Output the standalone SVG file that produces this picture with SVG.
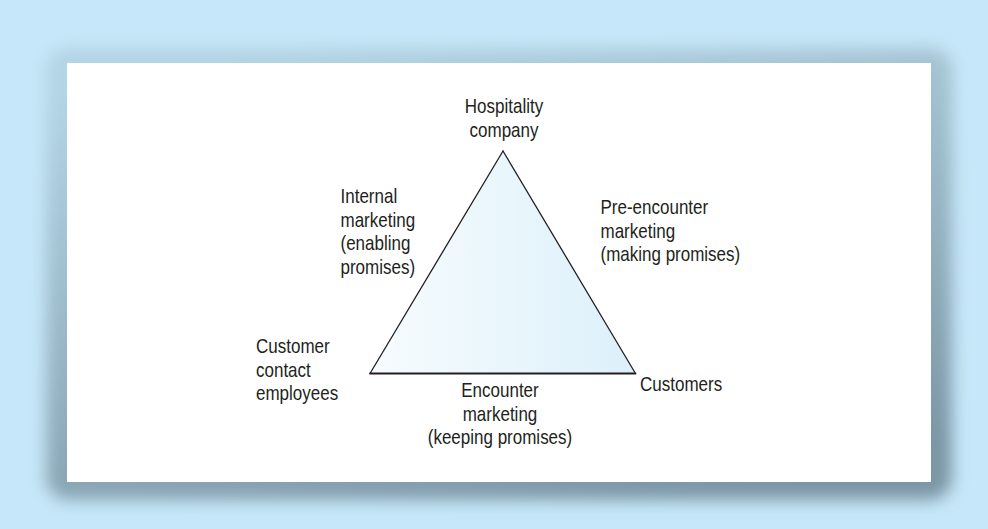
<svg xmlns="http://www.w3.org/2000/svg" width="988" height="529" viewBox="0 0 988 529">
  <defs>
    <linearGradient id="shadowGrad" x1="0.3" y1="0" x2="0.7" y2="1">
      <stop offset="0" stop-color="#b3d4e4"/>
      <stop offset="1" stop-color="#7b96a4"/>
    </linearGradient>
    <linearGradient id="triGrad" x1="0" y1="0" x2="1" y2="0">
      <stop offset="0" stop-color="#f7fcfe"/>
      <stop offset="1" stop-color="#dcf0fa"/>
    </linearGradient>
    <filter id="blur" x="-10%" y="-10%" width="120%" height="120%">
      <feGaussianBlur stdDeviation="8"/>
    </filter>
  </defs>
  <style>
    .t { font-family: "Liberation Sans", Arial, sans-serif; font-size: 20px; fill: #231f20; }
    .c { text-anchor: middle; }
    .edge { stroke: #231f20; stroke-width: 1.3; fill: none; stroke-linecap: round; }
  </style>

  <rect x="0" y="0" width="988" height="529" fill="#c6e7f9"/>
  <rect x="46" y="48" width="906" height="452" rx="22" fill="url(#shadowGrad)" filter="url(#blur)"/>
  <rect x="67" y="63" width="864" height="419" fill="#ffffff"/>

  <polygon points="503,151 370,373.5 635.5,373.5" fill="url(#triGrad)"/>

  <g id="connectors">
    <g id="edge-internal">
      <line class="edge" x1="503" y1="151" x2="370" y2="373.5"/>
      <text class="t" transform="translate(340.5,203) scale(0.85,1)"><tspan x="0" y="0">Internal</tspan><tspan x="0" y="23.6">marketing</tspan><tspan x="0" y="47.2">(enabling</tspan><tspan x="0" y="70.8">promises)</tspan></text>
    </g>
    <g id="edge-preencounter">
      <line class="edge" x1="503" y1="151" x2="635.5" y2="373.5"/>
      <text class="t" transform="translate(600.5,214.3) scale(0.85,1)"><tspan x="0" y="0">Pre-encounter</tspan><tspan x="0" y="23.4">marketing</tspan><tspan x="0" y="46.8">(making promises)</tspan></text>
    </g>
    <g id="edge-encounter">
      <line class="edge" x1="370" y1="373.5" x2="635.5" y2="373.5" style="stroke-width:1.8"/>
      <text class="t c" transform="translate(500,397.3) scale(0.85,1)"><tspan x="0" y="0">Encounter</tspan><tspan x="0" y="23.6">marketing</tspan><tspan x="0" y="47.2">(keeping promises)</tspan></text>
    </g>
  </g>

  <g id="node-company">
    <text class="t c" transform="translate(504,113.3) scale(0.85,1)"><tspan x="0" y="0">Hospitality</tspan><tspan x="0" y="24">company</tspan></text>
  </g>
  <g id="node-employees">
    <text class="t" transform="translate(256,353.3) scale(0.85,1)"><tspan x="0" y="0">Customer</tspan><tspan x="0" y="23.5">contact</tspan><tspan x="0" y="47">employees</tspan></text>
  </g>
  <g id="node-customers">
    <text class="t" transform="translate(640,391) scale(0.85,1)">Customers</text>
  </g>
</svg>
